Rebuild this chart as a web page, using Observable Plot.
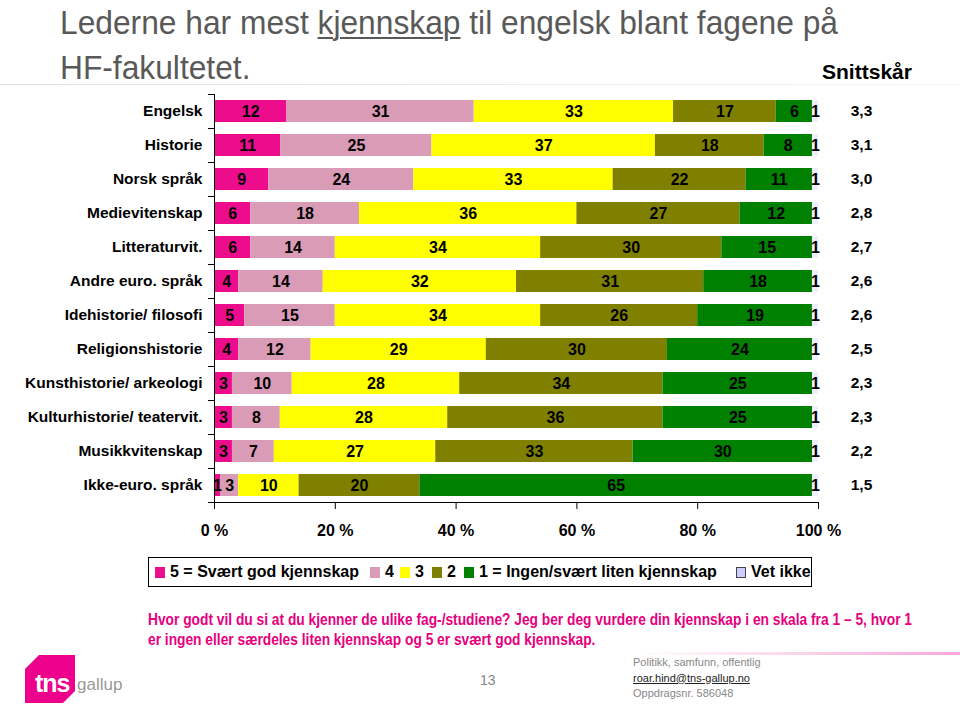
<!DOCTYPE html>
<html>
<head>
<meta charset="utf-8">
<script src="https://cdn.jsdelivr.net/npm/d3@7"></script>
<script src="https://cdn.jsdelivr.net/npm/@observablehq/plot@0.6"></script>
<style>
  html, body { margin: 0; padding: 0; background: #fff; }
  body { width: 960px; height: 710px; position: relative; overflow: hidden; font-family: "Liberation Sans", Arial, sans-serif; }
  .abs { position: absolute; white-space: nowrap; }
  #title { left: 60px; top: 0px; font-size: 34px; color: #595959; line-height: 45px; transform-origin: 0 0; }
  #title u { text-decoration-thickness: 2px; text-underline-offset: 3px; }
  #snitt { left: 822px; top: 61px; font-size: 20px; font-weight: bold; color: #000; transform-origin: 0 0; }
  #chart { left: 0; top: 85px; }
  #legend { left: 148px; top: 557px; width: 664px; height: 30px; border: 1px solid #000; box-sizing: border-box; font-size: 16px; font-weight: bold; }
  #legend .it { position: absolute; top: 0; height: 28px; display: flex; align-items: center; }
  #legend .sw { width: 10px; height: 11px; margin-right: 5px; box-sizing: border-box; }
  #q { left: 148px; top: 610px; font-size: 16px; font-weight: bold; color: #E6007E; line-height: 20px; transform-origin: 0 0; }
  #pg { left: 480px; top: 672px; font-size: 14px; color: #888; }
  #info { left: 633px; top: 655px; font-size: 11px; color: #888; line-height: 15.5px; }
  #info u { color: #222; }
  #logo { left: 25px; top: 655px; width: 50px; height: 48px; background: #EC008C; clip-path: polygon(14px 0, 100% 0, 100% 36px, 38px 100%, 0 100%, 0 14px); }
  #tns { left: 35px; top: 669px; font-size: 25px; font-weight: bold; color: #fff; letter-spacing: -1px; }
  #gallup { left: 77px; top: 675px; font-size: 17px; color: #999; }
  #rule1 { left: 0; top: 84px; width: 960px; height: 1px; background: linear-gradient(to right, #ddd, #eee 60%, #f5f5f5); }
  #rule2 { left: 640px; top: 652px; width: 320px; height: 3px; background: linear-gradient(to right, rgba(236,0,140,0), rgba(236,0,140,0.35)); }
</style>
</head>
<body>
<div id="rule1" class="abs"></div>
<div id="title" class="abs">Lederne har mest <u>kjennskap</u> til engelsk blant fagene på<br>HF-fakultetet.</div>
<div id="snitt" class="abs">Snittskår</div>
<div id="chart" class="abs"></div>
<div id="legend" class="abs"></div>
<div id="q" class="abs">Hvor godt vil du si at du kjenner de ulike fag-/studiene? Jeg ber deg vurdere din kjennskap i en skala fra 1 – 5, hvor 1<br>er ingen eller særdeles liten kjennskap og 5 er svært god kjennskap.</div>
<div id="rule2" class="abs"></div>
<div id="logo" class="abs"></div>
<div id="tns" class="abs">tns</div>
<div id="gallup" class="abs">gallup</div>
<div id="pg" class="abs">13</div>
<div id="info" class="abs">Politikk, samfunn, offentlig<br><u>roar.hind@tns-gallup.no</u><br>Oppdragsnr. 586048</div>
<script>
// ---- data ----
const categories = ["Engelsk","Historie","Norsk språk","Medievitenskap","Litteraturvit.","Andre euro. språk","Idehistorie/ filosofi","Religionshistorie","Kunsthistorie/ arkeologi","Kulturhistorie/ teatervit.","Musikkvitenskap","Ikke-euro. språk"];
const s5 = [12,11,9,6,6,4,5,4,3,3,3,1];
const s4 = [31,25,24,18,14,14,15,12,10,8,7,3];
const s3 = [33,37,33,36,34,32,34,29,28,28,27,10];
const s2 = [17,18,22,27,30,31,26,30,34,36,33,20];
const s1 = [6,8,11,12,15,18,19,24,25,25,30,65];
const vetIkke = [1,1,1,1,1,1,1,1,1,1,1,1];
const snittskar = ["3,3","3,1","3,0","2,8","2,7","2,6","2,6","2,5","2,3","2,3","2,2","1,5"];
const seriesNames = ["5 = Svært god kjennskap","4","3","2","1 = Ingen/svært liten kjennskap","Vet ikke"];
const seriesColors = ["#EC0C8C","#DA9BB6","#FFFF00","#808000","#008000","#EEEEFF"];
const legendColors = ["#EC0C8C","#DA9BB6","#FFFF00","#808000","#008000","#CCCCFF"];
const xTicks = [0, 0.2, 0.4, 0.6, 0.8, 1];

const seriesValues = [s5, s4, s3, s2, s1, vetIkke];
const table = [];
seriesValues.forEach((vals, si) => {
  vals.forEach((v, ci) => table.push({cat: categories[ci], series: seriesNames[si], value: v}));
});
const snittTable = categories.map((c, i) => ({cat: c, snitt: snittskar[i]}));

const font = '"Liberation Sans", Arial, sans-serif';
const stackOpts = {x: "value", y: "cat", z: "series", offset: "normalize", order: seriesNames};

const chart = Plot.plot({
  width: 960,
  height: 460,
  marginLeft: 214,
  marginRight: 142,
  marginTop: 9,
  marginBottom: 43,
  style: {fontFamily: font, fontSize: "15.5px", fontWeight: "bold", color: "#000", background: "transparent"},
  x: {domain: [0, 1]},
  y: {domain: categories, paddingInner: 0.35, paddingOuter: 0.175},
  color: {domain: seriesNames, range: seriesColors},
  marks: [
    Plot.barX(table, Plot.stackX({...stackOpts, fill: "series"})),
    Plot.text(table, Plot.stackX({...stackOpts, text: "value", fill: "#000", fontSize: 16, fontWeight: "bold"})),
    Plot.text(snittTable, {y: "cat", text: "snitt", frameAnchor: "right", textAnchor: "middle", dx: 43, fontSize: 15.5, fontWeight: "bold", fill: "#000"}),
    Plot.frame({anchor: "left", stroke: "#000"}),
    Plot.frame({anchor: "bottom", stroke: "#000"}),
    Plot.ruleY(categories, {y: d => d, x1: -0.01, x2: 0, dy: -17, stroke: "#000"}),
    Plot.ruleY(categories.slice(-1), {y: d => d, x1: -0.01, x2: 0, dy: 17, stroke: "#000"}),
    Plot.axisY({tickSize: 0, tickPadding: 12, label: null, fontSize: 15.5, fontWeight: "bold"}),
    Plot.axisX({ticks: xTicks, tickFormat: d => Math.round(d * 100) + " %", tickSize: 7, tickPadding: 15, label: null, fontSize: 16, fontWeight: "bold"})
  ]
});
document.getElementById("chart").appendChild(chart);

// legend
const legend = document.getElementById("legend");
const legendLeft = [6, 221, 251, 283, 315, 587];
seriesNames.forEach((name, i) => {
  const it = document.createElement("div");
  it.className = "it";
  it.style.left = legendLeft[i] + "px";
  const sw = document.createElement("div");
  sw.className = "sw";
  sw.style.background = legendColors[i];
  if (name === "Vet ikke") sw.style.border = "1px solid #444";
  const tx = document.createElement("span");
  tx.textContent = name;
  it.appendChild(sw); it.appendChild(tx);
  legend.appendChild(it);
});

// fit text widths
function fit(id, w) {
  const el = document.getElementById(id);
  const r = el.getBoundingClientRect();
  el.style.transform = `scaleX(${w / r.width})`;
}
fit("title", 778);
fit("q", 764);
fit("snitt", 90);
</script>
</body>
</html>
